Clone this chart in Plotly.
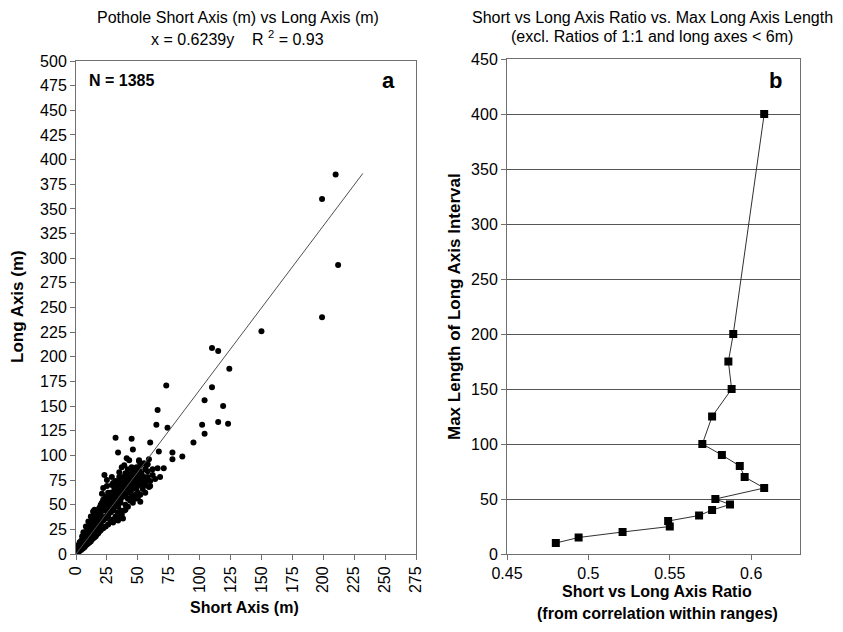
import plotly.graph_objects as go

# ---------------- data ----------------
# Panel a: pothole short axis vs long axis (m)
short_axis = [
    # sparse outliers and scattered points
    210, 199, 212, 199, 150, 110, 115, 124, 73, 110, 104, 66, 119, 65, 74, 102, 115, 123, 104, 95,
    45, 46, 60, 67, 78, 86, 78, 51, 59, 32, 34, 41, 43, 51, 58, 23, 29, 30, 35, 22,
    21, 15, 58, 62, 66, 71, 68, 50, 52, 46, 39, 38, 34, 60, 60, 42, 44, 47, 51, 57,
    25, 49, 25, 21, 14, 57, 59,
    # mid cloud
    26, 28, 30, 32, 34, 36, 38, 40, 28, 31, 33, 36, 38, 40, 42, 44, 46, 48, 50, 44,
    46, 48, 52, 54, 42, 40, 38, 36, 34, 30, 26, 24, 22, 25, 27, 29, 32, 35, 37, 39,
    45, 47, 53, 55, 56, 41, 43, 45, 35, 33, 31, 29, 30, 32, 35, 37, 40, 42, 36, 34,
    20, 22, 24, 26, 28, 30, 32, 34, 36, 38, 40, 42, 44, 46, 48, 24, 26, 28, 30, 32,
    34, 36, 38, 40, 43, 46, 49, 52, 55, 20, 22, 26, 30, 34, 38, 42, 44, 48, 50, 52,
    54, 56, 58, 62, 64, 40, 44, 48, 50, 46, 52, 56,
    # upper edge of dense cloud
    3, 5, 6, 8, 10, 12, 14,
    # dense core
    1, 1, 1, 1, 2, 2, 2, 2, 3, 3, 3, 3, 4, 4, 4, 4, 5, 5, 5, 5,
    6, 6, 6, 6, 7, 7, 7, 7, 8, 8, 8, 8, 9, 9, 9, 9, 10, 10, 10, 10,
    11, 11, 11, 11, 12, 12, 12, 12, 13, 13, 13, 13, 14, 14, 14, 14, 15, 15, 15, 15,
    16, 16, 16, 16, 17, 17, 17, 17, 18, 18, 18, 18, 19, 19, 19, 19, 20, 20, 20, 20,
    22, 22, 22, 22, 24, 24, 24, 24, 26, 26, 26, 26, 28, 28, 28, 30, 30, 30, 32, 32,
    32, 34, 34, 36, 36,
]
long_axis = [
    385, 360, 293, 240, 226, 209, 206, 188, 171, 169, 156, 146, 150, 131, 128, 131, 134, 132, 122, 113,
    117, 106, 113, 104, 103, 99, 96, 95, 96, 118, 103, 97, 95, 94, 91, 80, 78, 72, 83, 67,
    61, 45, 84, 86, 87, 87, 78, 57, 53, 52, 44, 36, 34, 74, 69, 81, 77, 76, 85, 90,
    75, 67, 69, 52, 43, 74, 68,
    48, 52, 56, 60, 64, 66, 70, 72, 62, 66, 70, 74, 78, 82, 86, 70, 74, 78, 80, 62,
    66, 60, 70, 74, 56, 60, 58, 52, 48, 44, 40, 44, 50, 56, 58, 70, 74, 78, 88, 90,
    88, 84, 82, 78, 86, 64, 68, 58, 58, 55, 50, 47, 32, 36, 38, 40, 45, 48, 44, 42,
    30, 34, 36, 38, 42, 46, 50, 54, 58, 62, 66, 70, 74, 78, 82, 52, 56, 58, 62, 66,
    70, 70, 74, 76, 80, 84, 88, 90, 92, 44, 46, 46, 52, 60, 66, 62, 66, 70, 74, 78,
    66, 70, 78, 80, 76, 50, 54, 56, 62, 58, 60, 62,
    12, 18, 22, 28, 33, 38, 43,
    1, 3, 5, 7, 2, 4, 6, 9, 3, 5, 8, 11, 4, 7, 10, 13, 5, 8, 12, 15,
    6, 9, 13, 17, 7, 11, 15, 19, 9, 12, 17, 21, 10, 14, 18, 24, 11, 15, 20, 26,
    12, 17, 22, 28, 13, 18, 24, 30, 15, 20, 26, 33, 16, 22, 28, 35, 17, 23, 30, 38,
    18, 25, 32, 40, 20, 27, 34, 43, 21, 28, 36, 45, 23, 30, 38, 47, 24, 32, 40, 50,
    26, 35, 44, 55, 28, 38, 48, 58, 30, 40, 50, 62, 33, 43, 54, 35, 46, 57, 38, 48,
    60, 40, 52, 42, 55,
]
# fitted line as drawn in the picture
trend_short = [0, 232]
trend_long = [0, 386]

# Panel b: ratio vs max long-axis interval length
ratio = [0.480, 0.494, 0.521, 0.550, 0.549, 0.568, 0.576, 0.587, 0.578, 0.608,
         0.596, 0.593, 0.582, 0.570, 0.576, 0.588, 0.586, 0.589, 0.608]
max_len = [10, 15, 20, 25, 30, 35, 40, 45, 50, 60, 70, 80, 90, 100, 125, 150, 175, 200, 400]

xa_ticks = list(range(0, 276, 25))
ya_ticks = list(range(0, 501, 25))
xb_ticks = [0.45, 0.5, 0.55, 0.6]
xb_labels = ["0.45", "0.5", "0.55", "0.6"]
yb_ticks = list(range(0, 451, 50))

# ---------------- figure ----------------
W, H = 843, 632
FONT = "Liberation Sans, Arial, sans-serif"


def px(x):
    return x / W


def py(y):
    return 1 - y / H


fig = go.Figure()
fig.add_trace(go.Scatter(x=short_axis, y=long_axis, mode="markers",
                         marker=dict(color="black", size=6), xaxis="x", yaxis="y",
                         hoverinfo="skip"))
fig.add_trace(go.Scatter(x=trend_short, y=trend_long, mode="lines",
                         line=dict(color="#505050", width=1), xaxis="x", yaxis="y"))
fig.add_trace(go.Scatter(x=ratio, y=max_len, mode="lines+markers",
                         marker=dict(symbol="square", size=8, color="black"),
                         line=dict(color="#303030", width=1), xaxis="x2", yaxis="y2"))

axis_common = dict(showline=True, linecolor="#707070", linewidth=1, mirror=True,
                   ticks="outside", ticklen=5, tickcolor="#707070", zeroline=False,
                   automargin=False,
                   tickfont=dict(family=FONT, size=16, color="black"))

fig.update_layout(
    width=W, height=H, margin=dict(l=0, r=0, t=0, b=0),
    paper_bgcolor="white", plot_bgcolor="white", showlegend=False,
    font=dict(family=FONT, color="black"),
    xaxis=dict(domain=[px(76), px(416)], range=[0, 275], tickvals=xa_ticks,
               tickangle=-90, showgrid=False, anchor="y", **axis_common),
    yaxis=dict(domain=[py(554), py(61)], range=[0, 500], tickvals=ya_ticks,
               showgrid=False, anchor="x", **axis_common),
    xaxis2=dict(domain=[px(507), px(800)], range=[0.45, 0.63], tickvals=xb_ticks,
                ticktext=xb_labels, showgrid=False, anchor="y2", **axis_common),
    yaxis2=dict(domain=[py(554), py(59)], range=[0, 450], tickvals=yb_ticks,
                showgrid=True, gridcolor="#555555", gridwidth=1, anchor="x2",
                **axis_common),
)

ann = []


def text(x, y, s, size=14, bold=False, xanchor="center", angle=0):
    if bold:
        s = "<b>" + s + "</b>"
    ann.append(dict(x=px(x), y=py(y), xref="paper", yref="paper", text=s,
                    showarrow=False, xanchor=xanchor, yanchor="middle",
                    textangle=angle, font=dict(family=FONT, size=size, color="black")))


text(238, 17, "Pothole Short Axis (m) vs Long Axis (m)", 16)
text(238, 38, "x = 0.6239y    R <sup>2</sup> = 0.93", 16)
text(652, 17, "Short vs Long Axis Ratio vs. Max Long Axis Length", 16)
text(652, 37, "(excl. Ratios of 1:1 and long axes < 6m)", 16)
text(244, 607, "Short Axis (m)", 16, bold=True)
text(18, 307, "Long Axis (m)", 17, bold=True, angle=-90)
text(455, 307, "Max Length of Long Axis Interval", 17, bold=True, angle=-90)
text(657, 591, "Short vs Long Axis Ratio", 16, bold=True)
text(657, 613, "(from correlation within ranges)", 16, bold=True)
text(87, 80, "N = 1385", 16, bold=True, xanchor="left")
text(388, 80, "a", 22, bold=True)
text(775, 80, "b", 22, bold=True)

fig.update_layout(annotations=ann)
fig.write_html("out.html", config={"displayModeBar": False},
               post_script="document.body.style.margin='0';document.body.style.padding='0';")
